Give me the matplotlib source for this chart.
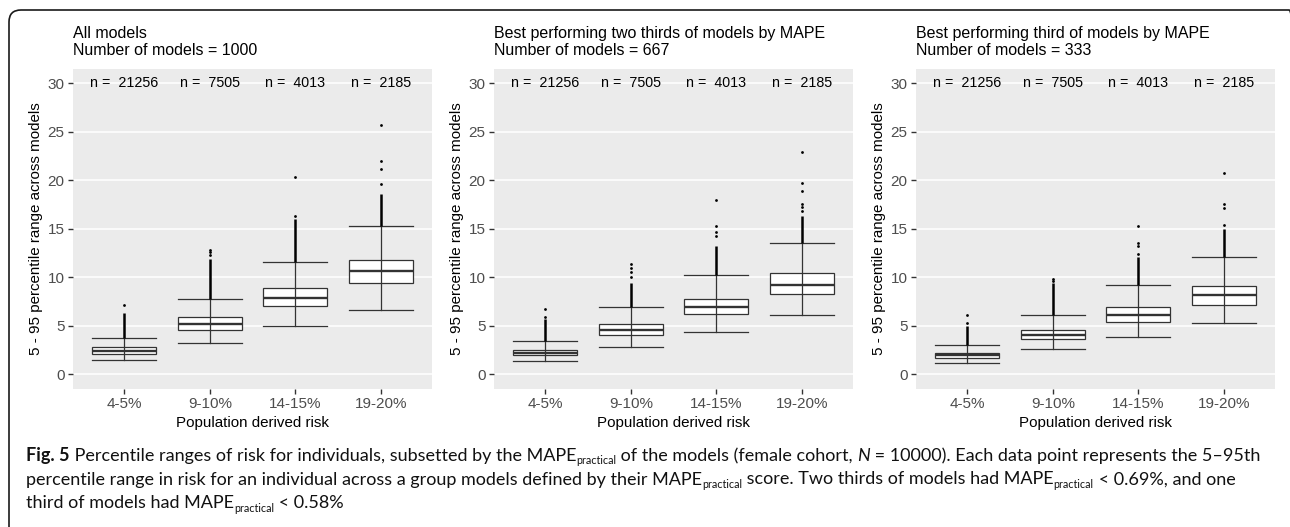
import matplotlib
matplotlib.use("Agg")
import matplotlib.pyplot as plt
from matplotlib.patches import FancyBboxPatch
from matplotlib.transforms import IdentityTransform

plt.rcParams['font.family'] = ['Liberation Sans', 'DejaVu Sans']

categories = ['4-5%', '9-10%', '14-15%', '19-20%']
n_labels = [21256, 7505, 4013, 2185]

title_line1 = ['All models',
               'Best performing two thirds of models by MAPE',
               'Best performing third of models by MAPE']
title_line2 = ['Number of models = 1000',
               'Number of models = 667',
               'Number of models = 333']

# box stats per panel
whislo = [[1.5, 3.2, 5.0, 6.6], [1.35, 2.85, 4.4, 6.15], [1.2, 2.6, 3.9, 5.25]]
q1 = [[2.15, 4.6, 7.0, 9.4], [1.95, 4.1, 6.2, 8.3], [1.7, 3.6, 5.35, 7.1]]
med = [[2.45, 5.2, 7.9, 10.6], [2.2, 4.6, 6.95, 9.25], [1.95, 4.1, 6.15, 8.2]]
q3 = [[2.8, 5.9, 8.85, 11.8], [2.5, 5.2, 7.8, 10.4], [2.25, 4.6, 6.95, 9.15]]
whishi = [[3.8, 7.8, 11.6, 15.3], [3.4, 6.95, 10.2, 13.5], [3.0, 6.15, 9.25, 12.05]]
# outliers: a dense column from whisker top to dense_top, plus sparse points
dense_top = [[6.3, 11.9, 16.0, 18.6], [5.7, 9.4, 13.2, 16.3], [5.0, 9.4, 12.1, 15.0]]
fliers = [
    [[7.2], [12.3, 12.6, 12.8], [16.3, 20.3], [19.6, 21.2, 22.0, 25.7]],
    [[5.9, 6.7], [10.0, 10.5, 11.0, 11.4], [14.3, 14.7, 15.3, 18.0], [16.8, 17.2, 17.6, 18.9, 19.7, 22.9]],
    [[5.3, 6.1], [9.6, 9.8], [12.4, 13.2, 13.5, 15.3], [15.4, 17.1, 17.5, 20.75]],
]

# caption as runs of (text, style)
caption = [
    [('Fig. 5', 'bold'), (' Percentile ranges of risk for individuals, subsetted by the MAPE', 'normal'),
     ('practical', 'sub'), (' of the models (female cohort, ', 'normal'), ('N', 'italic'),
     (' = 10000). Each data point represents the 5–95th', 'normal')],
    [('percentile range in risk for an individual across a group models defined by their MAPE', 'normal'),
     ('practical', 'sub'), (' score. Two thirds of models had MAPE', 'normal'), ('practical', 'sub'),
     (' < 0.69%, and one', 'normal')],
    [('third of models had MAPE', 'normal'), ('practical', 'sub'), (' < 0.58%', 'normal')],
]

W, H = 1290, 527
fig = plt.figure(figsize=(W / 100, H / 100), dpi=100)

lefts = [73, 494, 916]
pw = 359
top, bottom = 69, 389
edge = '#333333'

for p in range(3):
    ax = fig.add_axes([lefts[p] / W, 1 - bottom / H, pw / W, (bottom - top) / H])
    ax.set_facecolor('#EBEBEB')
    for s in ax.spines.values():
        s.set_visible(False)
    ax.set_axisbelow(True)
    ax.yaxis.grid(True, color='white', lw=1.1)

    pos = list(range(1, 5))
    stats = []
    for i in range(4):
        stats.append(dict(whislo=whislo[p][i], q1=q1[p][i], med=med[p][i],
                          q3=q3[p][i], whishi=whishi[p][i], fliers=fliers[p][i]))
    ax.bxp(stats, positions=pos, widths=0.75, capwidths=0.75, patch_artist=True,
           boxprops=dict(facecolor='white', edgecolor=edge, lw=0.9),
           whiskerprops=dict(color=edge, lw=0.9),
           capprops=dict(color=edge, lw=0.9),
           medianprops=dict(color=edge, lw=1.7),
           flierprops=dict(marker='o', markersize=2.0, markerfacecolor='black',
                           markeredgecolor='none'))
    # whisker line runs through the box
    ax.vlines(pos, q1[p], q3[p], color=edge, lw=0.9, zorder=4)
    ax.vlines(pos, whishi[p], dense_top[p], color='black', lw=1.8, zorder=3)

    for i in range(4):
        ax.text(pos[i], 30, 'n =  %d' % n_labels[i], ha='center', va='center',
                fontsize=10.3, color='black')

    ax.set_xlim(0.4, 4.6)
    ax.set_ylim(-1.5, 31.45)
    ax.set_xticks(pos)
    ax.set_xticklabels(categories)
    ax.set_yticks([0, 5, 10, 15, 20, 25, 30])
    ax.tick_params(colors=edge, labelcolor='#4D4D4D', labelsize=11, length=3.6, width=1, pad=2.5)
    ax.set_xlabel('Population derived risk', fontsize=10.9, labelpad=3)
    ax.set_ylabel('5 - 95 percentile range across models', fontsize=10.9, labelpad=3)
    fig.text(lefts[p] / W, 1 - 38 / H, title_line1[p], ha='left', va='baseline', fontsize=11.5)
    fig.text(lefts[p] / W, 1 - 55 / H, title_line2[p], ha='left', va='baseline', fontsize=11.5)

# caption, drawn run by run
cap_font = 'Lato'
r = fig.canvas.get_renderer()


def draw_runs(runs, x, y, size, draw=True):
    for txt, style in runs:
        kw = dict(fontfamily=cap_font, fontsize=size, va='baseline', ha='left', color='#111111')
        yy = y
        if style == 'bold':
            kw['fontweight'] = 'bold'
        elif style == 'italic':
            kw['fontstyle'] = 'italic'
        elif style == 'sub':
            kw['fontsize'] = size * 0.6
            yy = y - 3.5
        t = fig.text(x / W, yy / H, txt, **kw)
        w = t.get_window_extent(r).width
        if not draw:
            t.remove()
        x += w
    return x


# size the caption so that its first line spans the same width as in the picture
base = 12
end = draw_runs(caption[0], 26, 0, base, draw=False)
cap_size = base * (1258 - 26) / (end - 26)
baselines = [461, 484.5, 508]
for runs, yb in zip(caption, baselines):
    draw_runs(runs, 26, H - yb, cap_size)

border = FancyBboxPatch((9, -30), 1292, H - 10 + 30, boxstyle='round,pad=0,rounding_size=12',
                        transform=IdentityTransform(), fill=False, edgecolor='#1a1a1a', lw=1.2)
fig.add_artist(border)

fig.savefig('out.png', dpi=100)
